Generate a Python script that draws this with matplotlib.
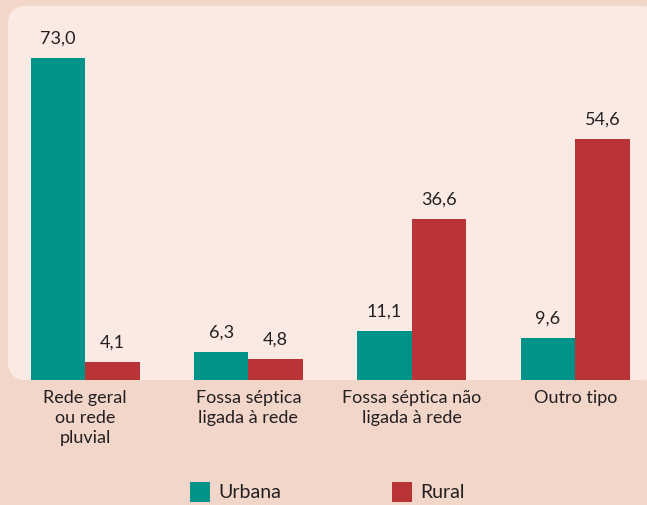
import matplotlib
matplotlib.use("Agg")
import matplotlib.pyplot as plt
from matplotlib.patches import FancyBboxPatch, Rectangle
import numpy as np

categories = ["Rede geral\nou rede\npluvial", "Fossa séptica\nligada à rede",
              "Fossa séptica não\nligada à rede", "Outro tipo"]
urbana = [73.0, 6.3, 11.1, 9.6]
rural = [4.1, 4.8, 36.6, 54.6]
series_names = ["Urbana", "Rural"]

BG = "#F2D6C9"
PANEL = "#FAEAE3"
TEAL = "#00938A"
RED = "#BA3336"
TXT = "#231F20"

plt.rcParams['font.family'] = ['Lato', 'DejaVu Sans']

W, H = 647, 505
fig = plt.figure(figsize=(W / 100, H / 100), dpi=100, facecolor=BG)

px = lambda x: x / W
py = lambda y: 1 - y / H
panel = FancyBboxPatch((px(8), py(380)), px(660) - px(8), py(6) - py(380),
                       boxstyle="round,pad=0,rounding_size=0.028",
                       transform=fig.transFigure, facecolor=PANEL, edgecolor="none",
                       mutation_aspect=W / H, zorder=-5)
fig.patches.append(panel)

spacing = 163.4
ppu = 4.41
ax = fig.add_axes([px(8), py(380), (647 - 8) / W, (380 - 6) / H])
ax.set_zorder(5)
ax.patch.set_visible(False)
ax.set_xlim((8 - 85) / spacing, (647 - 85) / spacing)
ax.set_ylim(0, (380 - 6) / ppu)

x = np.arange(len(categories))
bw = 54.5 / spacing
b1 = ax.bar(x - bw / 2, urbana, width=bw, color=TEAL, zorder=2)
b2 = ax.bar(x + bw / 2, rural, width=bw, color=RED, zorder=2)

def fmt(v):
    return f"{v:.1f}".replace(".", ",")

for bars, vals in ((b1, urbana), (b2, rural)):
    for b, v in zip(bars, vals):
        ax.annotate(fmt(v), (b.get_x() + b.get_width() / 2, v),
                    xytext=(0, 8), textcoords="offset points",
                    ha="center", va="bottom", fontsize=13, color=TXT)

for spine in ax.spines.values():
    spine.set_visible(False)
ax.set_yticks([])
ax.set_xticks([])

for xi, lab in zip(x, categories):
    ax.annotate(lab, (xi, 0), xytext=(0, -7), textcoords="offset points",
                ha="center", va="top", fontsize=13, color=TXT,
                linespacing=1.3, annotation_clip=False)

for (lx, name, col) in ((190, series_names[0], TEAL), (392, series_names[1], RED)):
    fig.patches.append(Rectangle((px(lx), py(502)), 20 / W, 20 / H,
                                 transform=fig.transFigure, facecolor=col,
                                 edgecolor="none"))
    fig.text(px(lx + 28), py(492), name, ha="left", va="center",
             fontsize=14, color=TXT)

fig.savefig("out.png", dpi=100, facecolor=BG)
